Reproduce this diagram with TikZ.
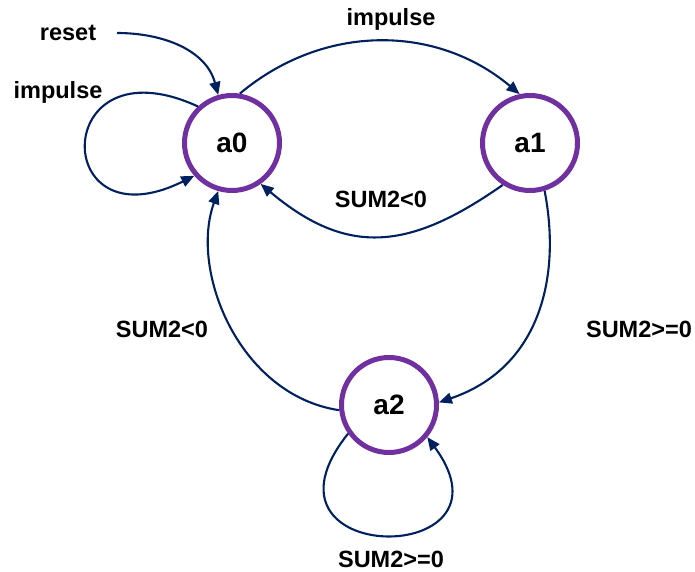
\documentclass[tikz,border=0pt]{standalone}
\usepackage{fontspec}
\setmainfont{Liberation Sans}
\usetikzlibrary{arrows.meta}
\definecolor{edgeblue}{HTML}{002060}
\definecolor{statepurple}{HTML}{7030A0}
\begin{document}
\begin{tikzpicture}[x=1pt,y=1pt,
  state/.style={circle, draw=statepurple, line width=5pt, minimum size=95pt, inner sep=0pt, font=\fontsize{28}{30}\selectfont\bfseries},
  edge/.style={draw=edgeblue, line width=2.1pt, -{Triangle[length=13pt,width=11pt]}},
  lbl/.style={font=\fontsize{23.5}{26}\selectfont\bfseries, anchor=base, inner sep=0pt}]
\useasboundingbox (0,0) rectangle (695,571);
\node[state] (a0) at (232,428) {a0};
\node[state] (a1) at (530,428) {a1};
\node[state] (a2) at (389,166) {a2};
\coordinate (rs) at (117,538);
\node[lbl] (lreset) at (68,530) {reset};
\node[lbl] (limp0) at (58,472) {impulse};
\node[lbl] (limp1) at (391,545) {impulse};
\node[lbl] (lneg1) at (381,363) {SUM2<0};
\node[lbl] (lneg2) at (162,234) {SUM2<0};
\node[lbl] (lpos1) at (639,234) {SUM2>=0};
\node[lbl] (lpos2) at (391,4) {SUM2>=0};
\draw[edge] (rs) to[out=0,in=105] (a0.106);
\draw[edge] (a0.133) .. controls +(-148,68) and +(-145,-72) .. (a0.221);
\draw[edge] (a0.81) to[out=40,in=140] (a1.102);
\draw[edge] (a1.237) to[out=215,in=-40,looseness=1.2] (a0.305);
\draw[edge] (a1.287) .. controls +(17,-88) and +(100,34) .. (a2.3);
\draw[edge] (a2.186) .. controls +(-100,15) and +(-29,-80) .. (a0.254);
\draw[edge] (a2.215) .. controls +(-107,-134) and +(97,-132) .. (a2.320);
\end{tikzpicture}
\end{document}
